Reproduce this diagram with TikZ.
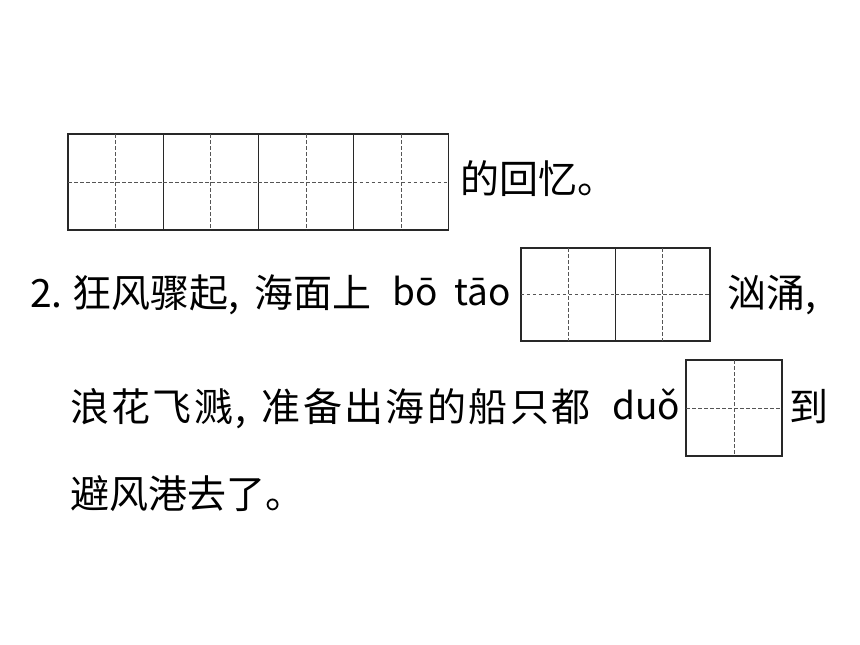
\documentclass[tikz,border=0pt]{standalone}
\usepackage{fontspec}
\setmainfont{Noto Sans CJK SC}
\newfontfamily\hanzi[LetterSpace=0]{Noto Sans CJK SC}
\newfontfamily\hanziwide[LetterSpace=6]{Noto Sans CJK SC}
\newcommand\douhao{,\hspace{0.4em}}
\usetikzlibrary{positioning}
\definecolor{gridline}{RGB}{40,40,40}
\definecolor{guideline}{RGB}{85,85,85}

\begin{document}
\begin{tikzpicture}[
    x=1pt, y=-1pt,
    txt/.style={inner sep=0pt, anchor=base west, font=\fontsize{39}{44}\selectfont\hanzi},
    widetxt/.style={inner sep=0pt, anchor=base west, font=\fontsize{39}{44}\selectfont\hanziwide},
    pin/.style={inner sep=0pt, anchor=base west, font=\fontsize{37}{44}\selectfont},
    cell/.style={rectangle, draw=gridline, line width=1.3pt, inner sep=0pt, outer sep=0pt, minimum width=95.2pt, minimum height=95pt},
    guide/.style={draw=guideline, line width=1pt, dash pattern=on 3.5pt off 2.5pt}
]
    \useasboundingbox (0,0) rectangle (860,645);

    \node[cell, minimum height=96pt] (g1) at (115.6,182) {};
    \node[cell, minimum height=96pt, right=0pt of g1] (g2) {};
    \node[cell, minimum height=96pt, right=0pt of g2] (g3) {};
    \node[cell, minimum height=96pt, right=0pt of g3] (g4) {};
    \node[txt] (memory) at (460,193) {的回忆。};

    \node[txt] (line2) at (30,307) {2.\hspace{0.25em}狂风骤起\douhao 海面上};
    \node[pin] (botao) at (392,305) {bō\hspace{0.45em}tāo};
    \node[cell, minimum width=94.5pt, minimum height=93pt] (w1) at (568.2,294.5) {};
    \node[cell, minimum width=94.5pt, minimum height=93pt, right=0pt of w1] (w2) {};
    \node[txt] (surge) at (727,307) {汹涌,};

    \node[widetxt] (line3) at (70,421) {浪花飞溅\douhao 准备出海的船只都};
    \node[pin] (duo) at (612,419) {duǒ};
    \node[cell, minimum width=96pt, minimum height=96pt] (d1) at (734,408) {};
    \node[txt] (dao) at (789,421) {到};

    \node[txt] (line4) at (70,508) {避风港去了。};

    \foreach \c in {g1,g2,g3,g4,w1,w2,d1} {
        \draw[guide] (\c.north) -- (\c.south);
        \draw[guide] (\c.west) -- (\c.east);
    }
\end{tikzpicture}
\end{document}
